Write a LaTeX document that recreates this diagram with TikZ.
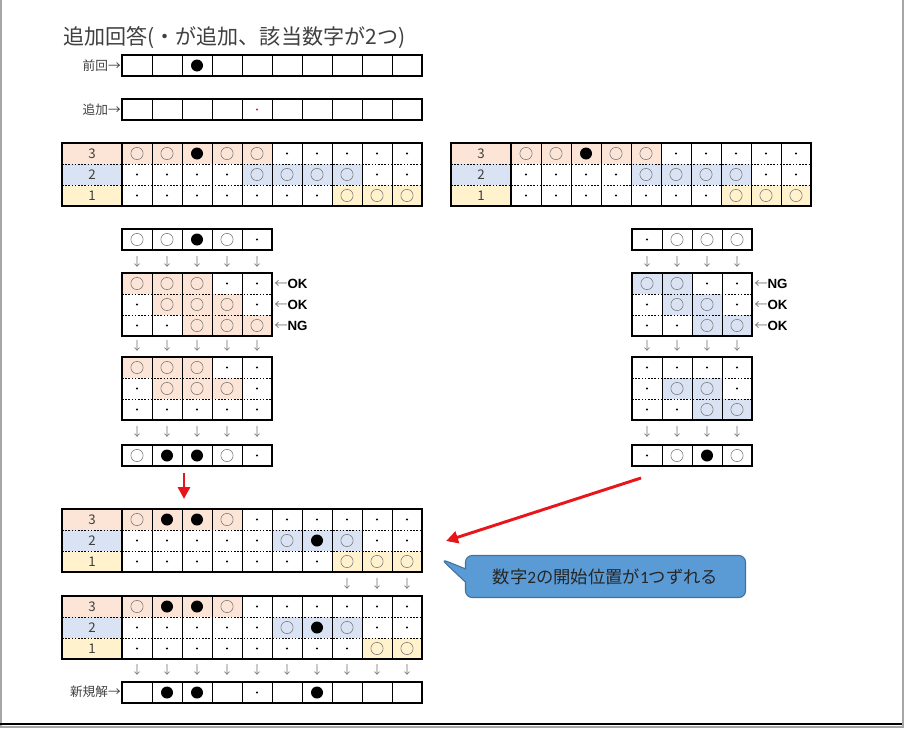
\documentclass[tikz,border=0pt]{standalone}
\usepackage{fontspec}
\setmainfont{Noto Sans CJK JP}
\newfontfamily\okfont{Liberation Sans}
\newfontfamily\calfont{Carlito}
\usetikzlibrary{arrows.meta, shapes.callouts}

\definecolor{peach}{HTML}{FCE4D6}
\definecolor{bluec}{HTML}{DAE3F3}
\definecolor{yellowc}{HTML}{FFF2CC}
\definecolor{ringgray}{HTML}{7F7F7F}
\definecolor{notefill}{HTML}{5B9BD5}
\definecolor{noteline}{HTML}{41719C}
\definecolor{arrowred}{HTML}{E8161B}
\definecolor{textgray}{HTML}{404040}

\tikzset{
  frame/.style={line width=1.8pt},
  cellline/.style={line width=0.7pt},
  rowline/.style={line width=0.7pt, dash pattern=on 1.2pt off 1.2pt},
  ring/.style={draw=ringgray, line width=0.45pt},
  downmark/.style={text=ringgray, font=\fontsize{9}{9}\selectfont, inner sep=0pt},
  rowlabel/.style={anchor=east, text=textgray, font=\fontsize{9.5}{10}\selectfont, inner sep=0pt},
  numlabel/.style={text=textgray, font=\fontsize{10}{10}\selectfont, inner sep=0pt},
  verdict/.style={anchor=west, inner sep=0pt, font=\okfont\bfseries\fontsize{10}{10}\selectfont},
  redarrow/.style={draw=arrowred, line width=2.2pt, -{Triangle[length=9pt, width=9pt]}},
  note/.style={rectangle callout, rounded corners=5pt, fill=notefill, draw=noteline,
    line width=0.8pt, minimum width=210pt, minimum height=31.5pt, inner sep=0pt,
    text=black!85, font=\fontsize{13}{13}\selectfont, callout pointer width=10pt}
}

\newcommand{\mko}[1]{\draw[ring] #1 circle (4.6pt);}
\newcommand{\mkb}[1]{\fill #1 circle (4.5pt);}
\newcommand{\mkd}[1]{\fill #1 circle (0.8pt);}
\newcommand{\mkr}[1]{\fill[arrowred] #1 circle (0.8pt);}
\newcommand{\mke}[1]{}
\newcommand{\leftarr}{{\rmfamily\mdseries\color{ringgray}←}}

\newcommand{\markrow}[3]{%
  \foreach \m [count=\i] in {#3}
    {\csname mk\m\endcsname{({#1+30*\i-15},{#2+10.5})}}}

\newcommand{\cellfill}[5]{%
  \fill[#3] ({#1+30*(#4-1)},#2) rectangle ++({30*#5},21);}

\newcommand{\gridframe}[4]{%
  \pgfmathtruncatemacro\lastcol{#3-1}
  \foreach \c in {1,...,\lastcol}
    \draw[cellline] ({#1+30*\c},#2) -- ++(0,{21*#4});
  \ifnum#4>1
    \pgfmathtruncatemacro\lastrow{#4-1}
    \foreach \r in {1,...,\lastrow}
      \draw[rowline] (#1,{#2+21*\r}) -- ++({30*#3},0);
  \fi
  \draw[frame] (#1,#2) rectangle ++({30*#3},{21*#4});}

\newcommand{\bigtable}[3]{%
  \fill[peach] (#2,#3) rectangle ++(60,21);
  \fill[bluec] (#2,{#3+21}) rectangle ++(60,21);
  \fill[yellowc] (#2,{#3+42}) rectangle ++(60,21);
  \node[numlabel] (#1three) at ({#2+30},{#3+10.5}) {3};
  \node[numlabel] (#1two) at ({#2+30},{#3+31.5}) {2};
  \node[numlabel] (#1one) at ({#2+30},{#3+52.5}) {1};
  \foreach \r in {1,2}
    \draw[rowline] (#2,{#3+21*\r}) -- ++(60,0);
  \draw[frame] (#2,#3) rectangle ++(60,63);}

\begin{document}
\begin{tikzpicture}[x=0.75pt, y=-0.75pt]
\useasboundingbox (0,0) rectangle (905,728);
\draw[gray!70, line width=1.5pt] (1,0) -- (1,727) -- (903,727) -- (903,0);
\draw[line width=1.5pt] (0,724) -- (902,724);

\node[anchor=west, text=textgray, font=\fontsize{15.8}{16}\selectfont, inner sep=0pt] (title) at (63,38) {追加回答(・が追加、該当数字が2つ)};

\node[rowlabel] (prev) at (121,66) {前回→};
\gridframe{122}{55}{10}{1}
\markrow{122}{55}{e,e,b,e,e,e,e,e,e,e}

\node[rowlabel] (added) at (121,110) {追加→};
\gridframe{122}{99}{10}{1}
\markrow{122}{99}{e,e,e,e,r,e,e,e,e,e}

\bigtable{ta}{62}{143}
\cellfill{122}{143}{peach}{1}{5}
\cellfill{122}{164}{bluec}{5}{4}
\cellfill{122}{185}{yellowc}{8}{3}
\gridframe{122}{143}{10}{3}
\markrow{122}{143}{o,o,b,o,o,d,d,d,d,d}
\markrow{122}{164}{d,d,d,d,o,o,o,o,d,d}
\markrow{122}{185}{d,d,d,d,d,d,d,o,o,o}

\bigtable{tb}{451}{143}
\cellfill{511}{143}{peach}{1}{5}
\cellfill{511}{164}{bluec}{5}{4}
\cellfill{511}{185}{yellowc}{8}{3}
\gridframe{511}{143}{10}{3}
\markrow{511}{143}{o,o,b,o,o,d,d,d,d,d}
\markrow{511}{164}{d,d,d,d,o,o,o,o,d,d}
\markrow{511}{185}{d,d,d,d,d,d,d,o,o,o}

\gridframe{122}{229}{5}{1}
\markrow{122}{229}{o,o,b,o,d}
\foreach \i in {1,...,5}
  \node[downmark] (la\i) at ({122+30*\i-15},262) {↓};
\cellfill{122}{273}{peach}{1}{3}
\cellfill{122}{294}{peach}{2}{3}
\cellfill{122}{315}{peach}{3}{3}
\gridframe{122}{273}{5}{3}
\markrow{122}{273}{o,o,o,d,d}
\markrow{122}{294}{d,o,o,o,d}
\markrow{122}{315}{d,d,o,o,o}
\node[verdict] (lv1) at (274,283.5) {\leftarr OK};
\node[verdict] (lv2) at (274,304.5) {\leftarr OK};
\node[verdict] (lv3) at (274,325.5) {\leftarr NG};
\foreach \i in {1,...,5}
  \node[downmark] (lb\i) at ({122+30*\i-15},346) {↓};
\cellfill{122}{357}{peach}{1}{3}
\cellfill{122}{378}{peach}{2}{3}
\gridframe{122}{357}{5}{3}
\markrow{122}{357}{o,o,o,d,d}
\markrow{122}{378}{d,o,o,o,d}
\markrow{122}{399}{d,d,d,d,d}
\foreach \i in {1,...,5}
  \node[downmark] (lc\i) at ({122+30*\i-15},432) {↓};
\gridframe{122}{445}{5}{1}
\markrow{122}{445}{o,b,b,o,d}

\gridframe{632}{229}{4}{1}
\markrow{632}{229}{d,o,o,o}
\foreach \i in {1,...,4}
  \node[downmark] (ra\i) at ({632+30*\i-15},262) {↓};
\cellfill{632}{273}{bluec}{1}{2}
\cellfill{632}{294}{bluec}{2}{2}
\cellfill{632}{315}{bluec}{3}{2}
\gridframe{632}{273}{4}{3}
\markrow{632}{273}{o,o,d,d}
\markrow{632}{294}{d,o,o,d}
\markrow{632}{315}{d,d,o,o}
\node[verdict] (rv1) at (754,283.5) {\leftarr NG};
\node[verdict] (rv2) at (754,304.5) {\leftarr OK};
\node[verdict] (rv3) at (754,325.5) {\leftarr OK};
\foreach \i in {1,...,4}
  \node[downmark] (rb\i) at ({632+30*\i-15},346) {↓};
\cellfill{632}{378}{bluec}{2}{2}
\cellfill{632}{399}{bluec}{3}{2}
\gridframe{632}{357}{4}{3}
\markrow{632}{357}{d,d,d,d}
\markrow{632}{378}{d,o,o,d}
\markrow{632}{399}{d,d,o,o}
\foreach \i in {1,...,4}
  \node[downmark] (rc\i) at ({632+30*\i-15},432) {↓};
\gridframe{632}{445}{4}{1}
\markrow{632}{445}{d,o,b,o}

\coordinate (dropA) at (184,473);
\coordinate (dropB) at (184,499);
\draw[redarrow] (dropA) -- (dropB);
\coordinate (shiftA) at (641,478);
\coordinate (shiftB) at (446,541);
\draw[redarrow] (shiftA) -- (shiftB);

\bigtable{tc}{62}{509}
\cellfill{122}{509}{peach}{1}{4}
\cellfill{122}{530}{bluec}{6}{3}
\cellfill{122}{551}{yellowc}{8}{3}
\gridframe{122}{509}{10}{3}
\markrow{122}{509}{o,b,b,o,d,d,d,d,d,d}
\markrow{122}{530}{d,d,d,d,d,o,b,o,d,d}
\markrow{122}{551}{d,d,d,d,d,d,d,o,o,o}
\foreach \i in {8,9,10}
  \node[downmark] (ld\i) at ({122+30*\i-15},584) {↓};

\bigtable{td}{62}{596}
\cellfill{122}{596}{peach}{1}{4}
\cellfill{122}{617}{bluec}{6}{3}
\cellfill{122}{638}{yellowc}{9}{2}
\gridframe{122}{596}{10}{3}
\markrow{122}{596}{o,b,b,o,d,d,d,d,d,d}
\markrow{122}{617}{d,d,d,d,d,o,b,o,d,d}
\markrow{122}{638}{d,d,d,d,d,d,d,d,o,o}
\foreach \i in {1,...,10}
  \node[downmark] (le\i) at ({122+30*\i-15},670) {↓};

\node[rowlabel] (fresh) at (121,692) {新規解→};
\gridframe{122}{682}{10}{1}
\markrow{122}{682}{e,b,b,e,d,e,b,e,e,e}

\coordinate (notetip) at (441,559);
\node[note, callout absolute pointer={(notetip)}] (note) at (605.5,576.5) {数字{\calfont 2}の開始位置が{\calfont 1}つずれる};
\end{tikzpicture}
\end{document}
